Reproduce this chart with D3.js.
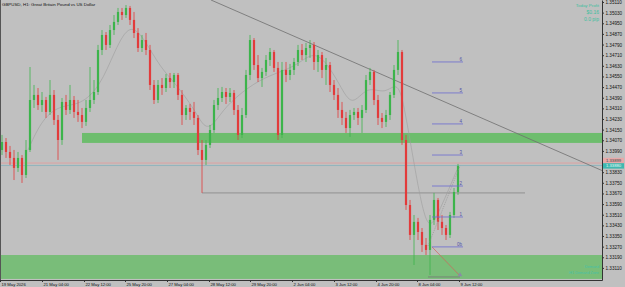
<!DOCTYPE html>
<html>
<head>
<meta charset="utf-8">
<script src="https://cdn.jsdelivr.net/npm/d3@7"></script>
<style>
body { margin: 0; background: #c0c0c0; }
svg { display: block; font-family: "Liberation Sans", Arial, sans-serif; }
</style>
</head>
<body>
<svg id="chart"></svg>
<script>
// GBPUSD H1 candles
var opens = [1.33997,1.34057,1.33982,1.33937,1.33862,1.33937,1.33809,1.33997,1.34373,1.34411,
  1.34335,1.34373,1.34283,1.34411,1.34223,1.34072,1.34358,1.34298,1.34373,1.34283,
  1.34260,1.34208,1.34313,1.34373,1.34433,1.34749,1.34862,1.34787,1.34899,1.34960,
  1.35035,1.35012,1.35065,1.34975,1.34877,1.34764,1.34824,1.34749,1.34486,1.34373,
  1.34486,1.34463,1.34538,1.34508,1.34561,1.34411,1.34260,1.34313,1.34283,1.34238,
  1.33997,1.33922,1.34035,1.34147,1.34335,1.34388,1.34433,1.34396,1.34426,1.34298,
  1.34110,1.34260,1.34561,1.34824,1.34636,1.34538,1.34584,1.34674,1.34734,1.34614,
  1.34110,1.34599,1.34561,1.34599,1.34659,1.34749,1.34711,1.34764,1.34787,1.34659,
  1.34711,1.34599,1.34636,1.34486,1.34411,1.34298,1.34238,1.34162,1.34260,1.34283,
  1.34238,1.34298,1.34523,1.34584,1.34373,1.34238,1.34208,1.34260,1.34411,1.34599,
  1.34734,1.34072,1.33583,1.33358,1.33456,1.33380,1.33283,1.33245,1.33471,1.33621,
  1.33456,1.33410,1.33358,1.33508,1.33681];
var highs = [1.34110,1.34087,1.34027,1.33997,1.33982,1.33959,1.34072,1.34621,1.34486,1.34463,
  1.34433,1.34396,1.34523,1.34448,1.34260,1.34388,1.34411,1.34486,1.34403,1.34373,
  1.34313,1.34373,1.34621,1.34523,1.34787,1.34899,1.34884,1.34937,1.35012,1.35065,
  1.35065,1.35087,1.35080,1.35035,1.34914,1.34862,1.34877,1.34787,1.34523,1.34523,
  1.34538,1.34569,1.34576,1.34576,1.34576,1.34448,1.34335,1.34343,1.34358,1.34260,
  1.34072,1.34072,1.34185,1.34373,1.34463,1.34471,1.34463,1.34463,1.34448,1.34335,
  1.34313,1.34599,1.34862,1.34839,1.34711,1.34614,1.34711,1.34764,1.34749,1.34659,
  1.34659,1.34659,1.34644,1.34689,1.34787,1.34794,1.34802,1.34824,1.34809,1.34749,
  1.34734,1.34689,1.34659,1.34523,1.34463,1.34358,1.34283,1.34298,1.34313,1.34313,
  1.34335,1.34561,1.34614,1.34599,1.34411,1.34275,1.34298,1.34433,1.34636,1.34824,
  1.34749,1.34110,1.33621,1.33508,1.33486,1.33410,1.33335,1.33508,1.33674,1.33636,
  1.33508,1.33433,1.33531,1.33711,1.33892];
var lows = [1.33959,1.33937,1.33884,1.33771,1.33832,1.33749,1.33786,1.33982,1.34313,1.34298,
  1.34283,1.34238,1.34260,1.34185,1.33922,1.34035,1.34260,1.34268,1.34238,1.34208,
  1.34162,1.34178,1.34283,1.34343,1.34411,1.34711,1.34749,1.34764,1.34862,1.34937,
  1.34975,1.34990,1.34937,1.34839,1.34734,1.34734,1.34711,1.34448,1.34343,1.34350,
  1.34411,1.34433,1.34463,1.34463,1.34373,1.34185,1.34223,1.34223,1.34185,1.33959,
  1.33674,1.33884,1.34012,1.34125,1.34298,1.34358,1.34343,1.34358,1.34260,1.34072,
  1.34087,1.34238,1.34523,1.34599,1.34508,1.34471,1.34554,1.34629,1.34584,1.34072,
  1.34087,1.34508,1.34523,1.34561,1.34629,1.34674,1.34659,1.34689,1.34599,1.34584,
  1.34538,1.34486,1.34433,1.34373,1.34238,1.34185,1.34125,1.34095,1.34223,1.34185,
  1.34125,1.34275,1.34486,1.34335,1.34185,1.34162,1.34170,1.34223,1.34388,1.34561,
  1.34035,1.33546,1.33320,1.33132,1.33320,1.33230,1.33207,1.33057,1.33433,1.33395,
  1.33358,1.33320,1.33335,1.33486,1.33659];
var closes = [1.34057,1.33982,1.33937,1.33862,1.33937,1.33809,1.33997,1.34373,1.34411,1.34335,
  1.34373,1.34283,1.34411,1.34223,1.34072,1.34358,1.34298,1.34373,1.34283,1.34260,
  1.34208,1.34313,1.34373,1.34433,1.34749,1.34862,1.34787,1.34899,1.34960,1.35035,
  1.35012,1.35065,1.34975,1.34877,1.34764,1.34824,1.34749,1.34486,1.34373,1.34486,
  1.34463,1.34538,1.34508,1.34561,1.34411,1.34260,1.34313,1.34283,1.34238,1.33997,
  1.33922,1.34035,1.34147,1.34335,1.34388,1.34433,1.34396,1.34426,1.34298,1.34110,
  1.34260,1.34561,1.34824,1.34636,1.34538,1.34584,1.34674,1.34734,1.34614,1.34110,
  1.34599,1.34561,1.34599,1.34659,1.34749,1.34711,1.34764,1.34787,1.34659,1.34711,
  1.34599,1.34636,1.34486,1.34411,1.34298,1.34238,1.34162,1.34260,1.34283,1.34238,
  1.34298,1.34523,1.34584,1.34373,1.34238,1.34208,1.34260,1.34411,1.34599,1.34734,
  1.34072,1.33583,1.33358,1.33456,1.33380,1.33283,1.33245,1.33471,1.33621,1.33456,
  1.33410,1.33358,1.33508,1.33681,1.33877];

// smoothed average line (bar index, price)
var maIdx = [6.5,10.25,15,19.5,24.5,28.25,32,35.75,39.5,43.25,48.25,50.75,53.25,55.75,61.5,67,
  73.25,77.5,80.75,84.5,87.5,91.25,95.75,99,100.75,103.25,106.25,108.75,113.75];
var maVal = [1.33997,1.34245,1.34335,1.34335,1.34471,1.34749,1.34960,1.34824,1.34621,1.34501,
  1.34298,1.34147,1.34200,1.34320,1.34471,1.34561,1.34621,1.34734,1.34674,1.34486,1.34313,
  1.34486,1.34411,1.34523,1.34298,1.33847,1.33373,1.33493,1.33847];

// zones
var zoneStart = [20, -0.5];
var zoneTop = [1.34125, 1.33207];
var zoneBottom = [1.34050, 1.33027];

// expansion levels
var fibVals = [1.34659, 1.34426, 1.34193, 1.33959, 1.33726, 1.33493, 1.33268];
var fibLabels = ["6", "5", "4", "3", "2", "1", "0b"];

// axis ticks
var priceTicks = [1.35110,1.35030,1.34950,1.34870,1.34790,1.34710,1.34630,1.34550,1.34470,
  1.34390,1.34310,1.34230,1.34150,1.34070,1.33990,1.33910,1.33830,1.33750,1.33670,1.33590,
  1.33510,1.33430,1.33350,1.33270,1.33190,1.33110];
var timeTickPos = [-0.5, 10, 20.5, 30.75, 41.25, 51.75, 62, 72.5, 83, 93.5, 103.75, 114.25];
var timeLabels = ["19 May 2026", "21 May 04:00", "22 May 12:00", "25 May 20:00", "27 May 04:00",
  "28 May 12:00", "29 May 20:00", "2 Jun 04:00", "3 Jun 12:00", "4 Jun 20:00", "8 Jun 04:00", "9 Jun 12:00"];

var askPrice = 1.33899, bidPrice = 1.33880, swingLow = 1.33674;

var W = 625, H = 287, plotR = 602, plotB = 280;

var svg = d3.select("#chart").attr("width", W).attr("height", H);
svg.append("rect").attr("width", W).attr("height", H).attr("fill", "#c0c0c0");

var x = d3.scaleLinear().domain([0, closes.length - 1]).range([2, 458]);
var y = d3.scaleLinear().domain([1.33019, 1.35125]).range([plotB, 0]);

svg.append("defs").append("clipPath").attr("id", "clip")
    .append("rect").attr("width", plotR).attr("height", plotB);

var plot = svg.append("g").attr("clip-path", "url(#clip)");

// supply / demand zones
zoneStart.forEach(function(s, i) {
    plot.append("rect")
        .attr("x", x(s))
        .attr("y", y(zoneTop[i]))
        .attr("width", plotR - x(s))
        .attr("height", y(zoneBottom[i]) - y(zoneTop[i]))
        .attr("fill", i == 0 ? "#6dbd6d" : "#79bd79");
});

// ask / bid lines
plot.append("line").attr("x1", 0).attr("x2", plotR)
    .attr("y1", y(askPrice)).attr("y2", y(askPrice))
    .attr("stroke", "#e59a9a").attr("stroke-width", 0.8);
plot.append("line").attr("x1", 0).attr("x2", plotR)
    .attr("y1", y(bidPrice)).attr("y2", y(bidPrice))
    .attr("stroke", "#86b3bd").attr("stroke-width", 0.8);

// horizontal line from the 28 May low
plot.append("line").attr("x1", x(50)).attr("x2", x(130.75))
    .attr("y1", y(swingLow)).attr("y2", y(swingLow))
    .attr("stroke", "#858585").attr("stroke-width", 0.8);

// trend line
plot.append("line")
    .attr("x1", x(52.25)).attr("y1", y(1.35125))
    .attr("x2", x(150.25)).attr("y2", y(1.33839))
    .attr("stroke", "#6e6e6e").attr("stroke-width", 0.8);

// average
var maLine = d3.line()
    .x(function(d, i) { return x(maIdx[i]); })
    .y(function(d) { return y(d); })
    .curve(d3.curveBasis);
plot.append("path").datum(maVal)
    .attr("d", maLine)
    .attr("fill", "none")
    .attr("stroke", "#9d9d9d")
    .attr("stroke-width", 0.6);

// candles
var bull = "#3cb44b", bear = "#e23b3b";
var candle = plot.selectAll(".candle").data(closes).enter().append("g").attr("class", "candle");
candle.append("line")
    .attr("x1", function(d, i) { return x(i); })
    .attr("x2", function(d, i) { return x(i); })
    .attr("y1", function(d, i) { return y(highs[i]); })
    .attr("y2", function(d, i) { return y(lows[i]); })
    .attr("stroke", function(d, i) { return d >= opens[i] ? bull : bear; })
    .attr("stroke-width", 0.8);
candle.append("rect")
    .attr("x", function(d, i) { return x(i) - 1.1; })
    .attr("width", 2.2)
    .attr("y", function(d, i) { return y(Math.max(d, opens[i])); })
    .attr("height", function(d, i) { return Math.max(0.8, Math.abs(y(d) - y(opens[i]))); })
    .attr("fill", function(d, i) { return d >= opens[i] ? bull : bear; });

// expansion construction lines
plot.append("line")
    .attr("x1", x(106.5)).attr("y1", y(1.33275))
    .attr("x2", x(114.5)).attr("y2", y(1.33877))
    .attr("stroke", "#8a8a8a").attr("stroke-width", 0.6)
    .attr("stroke-dasharray", "1,1");
plot.append("line")
    .attr("x1", x(107.5)).attr("y1", y(1.33268))
    .attr("x2", x(114.5)).attr("y2", y(1.33050))
    .attr("stroke", "#d4605a").attr("stroke-width", 0.7);
plot.append("line")
    .attr("x1", x(106.5)).attr("y1", y(1.33042))
    .attr("x2", x(114.5)).attr("y2", y(1.33042))
    .attr("stroke", "#777").attr("stroke-width", 0.8);
plot.append("path")
    .attr("d", d3.symbol().type(d3.symbolTriangle).size(9)())
    .attr("transform", "translate(" + x(114.5) + "," + (y(1.33050) - 1) + ")")
    .attr("fill", "#8a8aa8");

fibVals.forEach(function(v, i) {
    plot.append("line")
        .attr("x1", x(107.5)).attr("x2", x(115.25))
        .attr("y1", y(v)).attr("y2", y(v))
        .attr("stroke", "#6b6bd0").attr("stroke-width", 0.8);
    plot.append("text")
        .attr("x", x(115.25) - 1).attr("y", y(v) - 1.2)
        .attr("text-anchor", "end")
        .attr("font-size", "4.5px")
        .attr("fill", "#5252a8")
        .text(fibLabels[i]);
});

// title
svg.append("text").attr("x", 2).attr("y", 6)
    .attr("font-size", "4.4px").attr("fill", "#111")
    .text("GBPUSD, H1:  Great Britain Pound vs US Dollar");

// profit panel
var panel = ["Today Profit", "$0.16", "0.0 pip"];
panel.forEach(function(t, i) {
    svg.append("text").attr("x", 599).attr("y", 7 + i * 6.8)
        .attr("text-anchor", "end")
        .attr("font-size", i == 0 ? "4.4px" : "5px")
        .attr("fill", "#3fbf9f")
        .text(t);
});
svg.append("text").attr("x", 599).attr("y", 268)
    .attr("text-anchor", "end").attr("font-size", "3.8px").attr("fill", "#45c0a8")
    .text("Demand");
svg.append("text").attr("x", 599).attr("y", 274)
    .attr("text-anchor", "end").attr("font-size", "3.8px").attr("fill", "#45c0a8")
    .text("H1 Demand Zone");

// frame
svg.append("line").attr("x1", 0.5).attr("x2", 0.5).attr("y1", 0).attr("y2", plotB)
    .attr("stroke", "#555").attr("stroke-width", 1);

// price axis (the label under the live price boxes is hidden, as in MT4)
var fmt = d3.format(".5f");
var yAxis = d3.axisRight(y)
    .tickValues(priceTicks)
    .tickFormat(function(d) { return Math.abs(d - askPrice) < 0.0003 ? "" : fmt(d); })
    .tickSize(2)
    .tickSizeOuter(0)
    .tickPadding(1.5);
var ya = svg.append("g").attr("transform", "translate(" + plotR + ",0)").call(yAxis);
ya.select(".domain").attr("stroke", "#333");
ya.selectAll(".tick line").attr("stroke", "#333");
ya.selectAll("text").attr("font-size", "4.6px").attr("fill", "#111");

// current price boxes, stacked
var boxTop = y(askPrice) - 5.2;
[askPrice, bidPrice].forEach(function(p, i) {
    svg.append("rect")
        .attr("x", plotR + 1).attr("y", boxTop + i * 5.4)
        .attr("width", W - plotR - 2).attr("height", 5.4)
        .attr("fill", i == 0 ? "#e7a9a9" : "#3fb8b0");
    svg.append("text")
        .attr("x", plotR + 4).attr("y", boxTop + i * 5.4 + 4.2)
        .attr("font-size", "4.2px")
        .attr("fill", i == 0 ? "#444" : "#e8f8f6")
        .text(fmt(p));
});

// time axis
var xAxis = d3.axisBottom(x)
    .tickValues(timeTickPos)
    .tickFormat(function(d, i) { return timeLabels[i]; })
    .tickSize(2)
    .tickSizeOuter(0);
var xa = svg.append("g").attr("transform", "translate(0," + plotB + ")").call(xAxis);
xa.select(".domain").remove();
xa.selectAll(".tick line").attr("stroke", "#333");
xa.selectAll("text")
    .attr("text-anchor", "start")
    .attr("dx", "1")
    .attr("y", 3.5)
    .attr("font-size", "4.2px")
    .attr("fill", "#111");
svg.append("line").attr("x1", 0).attr("x2", plotR + 0.5)
    .attr("y1", plotB + 0.5).attr("y2", plotB + 0.5)
    .attr("stroke", "#333").attr("stroke-width", 1);
</script>
</body>
</html>
